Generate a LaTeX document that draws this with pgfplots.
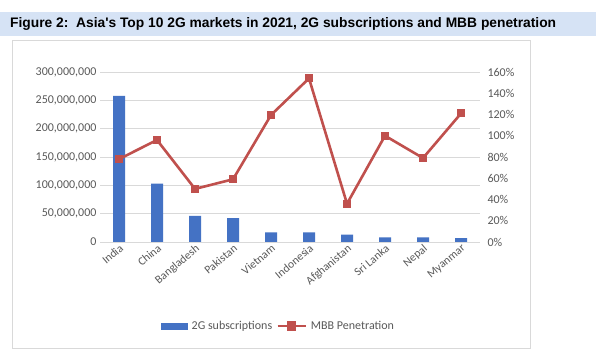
\documentclass[border=0pt]{standalone}
\usepackage{pgfplots}
\pgfplotsset{compat=1.18}
\usepackage{fontspec}
\setmainfont{Carlito}
\newfontfamily\arialfont{Liberation Sans}
\definecolor{barblue}{RGB}{68,114,196}
\definecolor{linered}{RGB}{192,80,77}
\definecolor{txtgray}{RGB}{89,89,89}
\definecolor{gridgray}{RGB}{217,217,217}
\definecolor{titlebg}{RGB}{214,227,245}
\begin{document}
\begin{tikzpicture}[x=1pt,y=1pt]
\fill[white] (0,0) rectangle (600,359);
\fill[titlebg] (0,323) rectangle (596,347);
\node[anchor=west,font=\arialfont\bfseries\fontsize{13.8}{15}\selectfont,inner sep=0pt] at (10,335) {Figure 2:\ \ Asia's Top 10 2G markets in 2021, 2G subscriptions and MBB penetration};
\draw[gridgray,line width=0.8pt] (12,11) -- (12,319) -- (530,319) -- (530,11) -- cycle;
\begin{axis}[
  at={(100pt,117pt)}, anchor=south west,
  width=380pt, height=170pt, scale only axis,
  xmin=-0.5, xmax=9.5, ymin=0, ymax=300000000,
  xtick={0,...,9},
  xticklabels={India,China,Bangladesh,Pakistan,Vietnam,Indonesia,Afghanistan,Sri Lanka,Nepal,Myanmar},
  xticklabel style={rotate=40, anchor=north east, font=\fontsize{11.5}{12}\selectfont, text=txtgray, inner sep=1pt},
  ytick={0,50000000,100000000,150000000,200000000,250000000,300000000},
  scaled y ticks=false,
  yticklabel style={/pgf/number format/fixed, /pgf/number format/1000 sep={,}, /pgf/number format/assume math mode=true, font=\fontsize{12}{13}\selectfont, text=txtgray},
  ymajorgrids, grid style={gridgray, line width=0.6pt},
  axis x line*=bottom, axis y line*=left,
  y axis line style={draw=none},
  x axis line style={gridgray, line width=0.8pt},
  major tick length=0pt,
  ybar, bar width=12pt,
]
\addplot[fill=barblue, draw=none] coordinates {(0,258000000) (1,103000000) (2,46000000) (3,42000000) (4,17000000) (5,17000000) (6,13000000) (7,8000000) (8,8000000) (9,7000000)};
\end{axis}
\begin{axis}[
  at={(100pt,117pt)}, anchor=south west,
  width=380pt, height=170pt, scale only axis,
  xmin=-0.5, xmax=9.5, ymin=0, ymax=160,
  xtick=\empty,
  ytick={0,20,...,160},
  yticklabel={\pgfmathprintnumber{\tick}\%},
  yticklabel style={/pgf/number format/assume math mode=true, font=\fontsize{12}{13}\selectfont, text=txtgray, xshift=4pt},
  axis x line=none, axis y line*=right, y axis line style={draw=none},
  major tick length=0pt,
  legend style={at={(0.47,-0.44)}, anchor=north, draw=none, fill=none, legend columns=2, font=\fontsize{12}{13}\selectfont, text=txtgray, /tikz/every even column/.append style={column sep=2pt}},
]
\addlegendimage{legend image code/.code={\fill[barblue] (0pt,-3pt) rectangle (26pt,3pt);}}
\addlegendentry{\hspace*{2pt}2G subscriptions}
\addplot[linered, line width=2.6pt, mark=square*, mark size=3.5pt, mark options={fill=linered, line width=0pt},
  legend image code/.code={\draw[linered, line width=2.6pt] (0pt,0pt) -- (28pt,0pt); \fill[linered] (10.5pt,-3.5pt) rectangle (17.5pt,3.5pt);}] coordinates {(0,78) (1,96) (2,50) (3,59) (4,119.5) (5,154) (6,36) (7,100) (8,79) (9,121)};
\addlegendentry{\hspace*{2pt}MBB Penetration}
\end{axis}
\end{tikzpicture}
\end{document}
